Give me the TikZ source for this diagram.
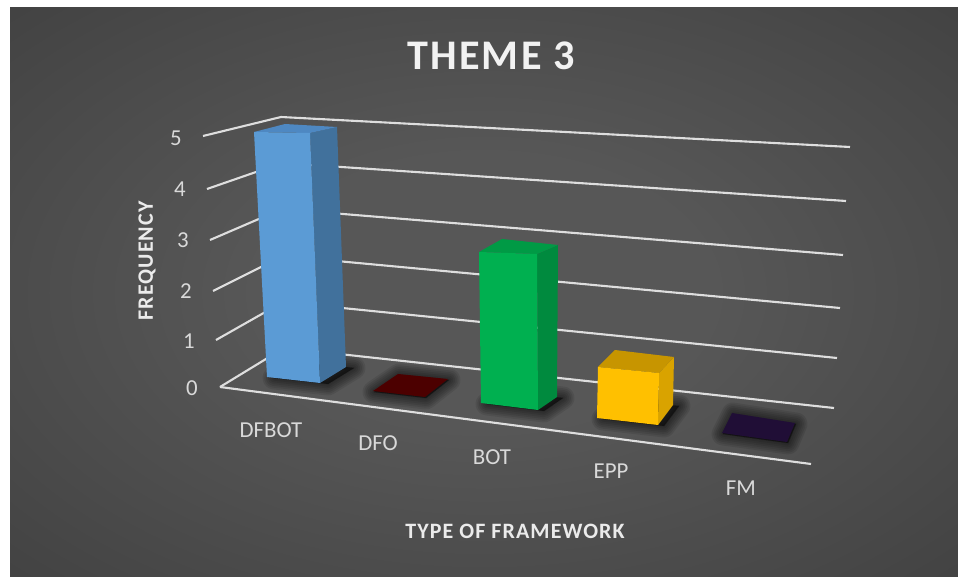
\documentclass[tikz,border=0pt]{standalone}
\usepackage{fontspec}
\setmainfont{Carlito}
\newfontfamily\spacedfont[LetterSpace=5]{Carlito}
\newfontfamily\titlefont[LetterSpace=5.5]{Carlito}

\definecolor{bgin}{HTML}{575757}
\definecolor{bgmid}{HTML}{363636}
\definecolor{bgout}{HTML}{202020}
\definecolor{gridcol}{HTML}{DEDEDE}
\definecolor{txtcol}{HTML}{D9D9D9}
\definecolor{blueF}{HTML}{5B9BD5}
\definecolor{blueS}{HTML}{41719C}
\definecolor{blueT}{HTML}{4E88C2}
\definecolor{greenF}{HTML}{00B050}
\definecolor{greenS}{HTML}{008A3E}
\definecolor{greenT}{HTML}{009A45}
\definecolor{yellowF}{HTML}{FFC000}
\definecolor{yellowS}{HTML}{D9A300}
\definecolor{yellowT}{HTML}{C79500}
\definecolor{dfored}{HTML}{4C0000}
\definecolor{fmpurple}{HTML}{200E36}

\pgfdeclareradialshading{chartbg}{\pgfpointorigin}{color(0bp)=(bgin); color(12bp)=(bgin); color(50bp)=(bgmid); color(72bp)=(bgout)}

\begin{document}
\begin{tikzpicture}[x=0.02cm,y=-0.02cm,
    grid/.style={draw=gridcol,line width=1.2pt},
    tick/.style={text=txtcol,font=\fontsize{13}{15}\selectfont,inner sep=0pt},
    cat/.style={text=txtcol,font=\fontsize{13}{15}\selectfont,inner sep=0pt},
    axtitle/.style={text=white!92!black,font=\spacedfont\bfseries\fontsize{12.5}{14}\selectfont,inner sep=0pt},
    charttitle/.style={text=white!95!black,font=\titlefont\bfseries\fontsize{24}{28}\selectfont,inner sep=0pt},
    shadowbase/.style={black,line join=round}]

    \useasboundingbox (0,0) rectangle (958,577);
    \fill[white] (0,0) rectangle (958,577);
    \shade[shading=chartbg] (10,8) rectangle (958,577);

    % back wall and floor
    \foreach \k/\lx/\ly/\cx/\cy/\rx/\ry in {0/220/387/284/348/834/408, 1/216/340/283/302/837/358,
        2/213/291/283/256/840/308, 3/210/240/282/209/843/255, 4/207/189/282/163/846/201, 5/203/136/281/117/850/147}{
        \coordinate (L\k) at (\lx,\ly);
        \coordinate (C\k) at (\cx,\cy);
        \coordinate (R\k) at (\rx,\ry);
        \draw[grid] (L\k) -- (C\k) -- (R\k);
    }
    \coordinate (F) at (811,464);
    \draw[grid] (L0) -- (F);

    % value axis
    \foreach \k/\tx/\ty in {0/192/388, 1/189/341, 2/186/291, 3/183/240, 4/180/189, 5/176/138}
        \node[tick] (t\k) at (\tx,\ty) {\k};

    % shadows on the floor
    \foreach \w in {13,11,...,1}{
        \filldraw[shadowbase,line width=\w pt,opacity=0.09] (274,378) -- (328,384) -- (354,368) -- (300,362) -- cycle;
        \filldraw[shadowbase,line width=\w pt,opacity=0.09] (487,404) -- (544,411) -- (563,398) -- (508,392) -- cycle;
        \filldraw[shadowbase,line width=\w pt,opacity=0.09] (603,419) -- (664,426) -- (679,406) -- (620,401) -- cycle;
        \filldraw[shadowbase,line width=\w pt,opacity=0.09] (374,392) -- (399,375) -- (449,380) -- (426,398) -- cycle;
        \filldraw[shadowbase,line width=\w pt,opacity=0.09] (723,434) -- (733,414) -- (796,424) -- (788,443) -- cycle;
    }

    % DFBOT
    \fill[blueS] (310,133) -- (337,127) -- (346,367) -- (320,383) -- cycle;
    \fill[blueT] (254,132) -- (285,124) -- (337,127) -- (310,133) -- cycle;
    \fill[blueF] (254,132) -- (310,133) -- (320,383) -- (267,377) -- cycle;
    % DFO
    \fill[dfored] (373,391) -- (398,374) -- (448,379) -- (425,397) -- cycle;
    % BOT
    \fill[greenS] (537,254) -- (558,245) -- (557,397) -- (538,410) -- cycle;
    \fill[greenT] (479,252) -- (502,239) -- (558,245) -- (537,254) -- cycle;
    \fill[greenF] (479,252) -- (537,254) -- (538,410) -- (481,403) -- cycle;
    % EPP
    \fill[yellowS] (659,373) -- (674,357) -- (673,405) -- (658,425) -- cycle;
    \fill[yellowT] (598,367) -- (615,350) -- (674,357) -- (659,373) -- cycle;
    \fill[yellowF] (598,367) -- (659,373) -- (658,425) -- (597,418) -- cycle;
    % FM
    \fill[fmpurple] (722,433) -- (732,413) -- (795,423) -- (787,442) -- cycle;

    % categories
    \node[cat] (dfbot) at (271,430) {DFBOT};
    \node[cat] (dfo) at (378,443) {DFO};
    \node[cat] (bot) at (492,457) {BOT};
    \node[cat] (epp) at (611,471) {EPP};
    \node[cat] (fm) at (741,488) {FM};

    \node[axtitle,rotate=90] (freq) at (147,261) {FREQUENCY};
    \node[axtitle] (xtitle) at (515,531) {TYPE OF FRAMEWORK};
    \node[charttitle] (title) at (491,56) {THEME 3};
\end{tikzpicture}
\end{document}
